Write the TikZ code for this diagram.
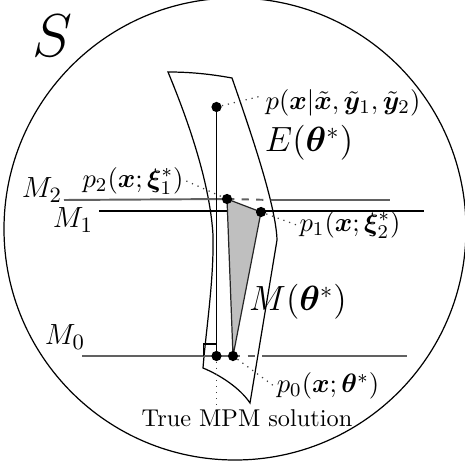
\documentclass[tikz,border=0pt]{standalone}
\usepackage{amsmath,bm}
\begin{document}
\begin{tikzpicture}[x=0.4115pt,y=-0.4115pt,
  dot/.style={circle,fill=black,inner sep=0pt,minimum size=4.2pt},
  mline/.style={line width=0.8pt,black!62},
  thin line/.style={line width=0.5pt,black},
  leader/.style={dotted,line width=0.5pt,black!75},
  big/.style={font=\fontsize{14}{16}\selectfont},
  mid/.style={font=\fontsize{13}{15}\selectfont},
  lab/.style={inner sep=1pt,font=\fontsize{11.3}{13}\selectfont}]
\useasboundingbox (0,0) rectangle (465,467);
\clip (0,0) rectangle (465,467);
% outer set S
\draw[thin line] (235,229) circle[radius=95.06pt];
% region E(theta*)
\draw[thin line] (168,72) .. controls (190,125) and (210,185) .. (213,235)
  .. controls (214,280) and (206,330) .. (203,368)
  .. controls (220,375) and (240,388) .. (250,403)
  -- (277,240) .. controls (276,205) and (250,130) .. (232,78)
  .. controls (210,74) and (190,72) .. cycle;
% point coordinates
\coordinate (cp) at (216.5,107);
\coordinate (c2) at (227,199);
\coordinate (c1) at (261,212);
\coordinate (c0a) at (216.5,356);
\coordinate (c0b) at (233,356);
% line M2
\coordinate (m2a) at (64,200);
\coordinate (m2b) at (272,200);
\coordinate (m2c) at (390,200);
\draw[mline] (m2a) -- (c2);
\draw[mline,dashed] (c2) -- (m2b);
\draw[mline] (m2b) -- (m2c);
% line M1
\coordinate (m1a) at (99,211);
\coordinate (m1b) at (424,211);
\draw[thin line] (m1a) -- (m1b);
% line M0
\coordinate (m0a) at (82,356);
\coordinate (m0b) at (262,356);
\coordinate (m0c) at (407,356);
\draw[mline] (m0a) -- (c0b);
\draw[mline,dashed] (c0b) -- (m0b);
\draw[mline] (m0b) -- (m0c);
% shaded triangle
\filldraw[fill=black!25,draw=black!85,line width=0.5pt] (c2) -- (c1) -- (c0b) -- cycle;
% vertical line and right-angle mark
\draw[line width=0.6pt] (cp) -- (c0a);
\draw[thin line] (203.5,356) |- (216.5,344);
% dots
\node[dot] (pd) at (cp) {};
\node[dot] (p2d) at (c2) {};
\node[dot] (p1d) at (c1) {};
\node[dot] (p0a) at (c0a) {};
\node[dot] (p0b) at (c0b) {};
% labels
\node (S) at (52,36) {\fontsize{29}{32}\selectfont $S$};
\node[lab] (lp) at (343,103) {$p(\bm{x}|\tilde{\bm{x}},\tilde{\bm{y}}_1,\tilde{\bm{y}}_2)$};
\node[big] (lE) at (309,143) {$E(\bm{\theta}^*)$};
\node[lab] (lp2) at (133,181) {$p_2(\bm{x};\bm{\xi}_1^*)$};
\node[mid] (lM2) at (42,190) {$M_2$};
\node[mid] (lM1) at (73,220) {$M_1$};
\node[lab] (lp1) at (350,225) {$p_1(\bm{x};\bm{\xi}_2^*)$};
\node[big,font=\fontsize{14.5}{16}\selectfont] (lM) at (298,302) {$M(\bm{\theta}^*)$};
\node[mid] (lM0) at (65,337) {$M_0$};
\node[lab] (lp0) at (328,386) {$p_0(\bm{x};\bm{\theta}^*)$};
\node[inner sep=1pt] (lt) at (247,418) {True MPM solution};
% leaders
\draw[leader] (pd) -- ([yshift=3pt]lp.west);
\draw[leader] (lp2.east) -- (p2d);
\draw[leader] (p1d) -- (lp1.west);
\draw[leader] (p0b) -- (lp0.west);
\draw[leader] (p0a) -- (p0a |- lt.north);
\end{tikzpicture}
\end{document}
